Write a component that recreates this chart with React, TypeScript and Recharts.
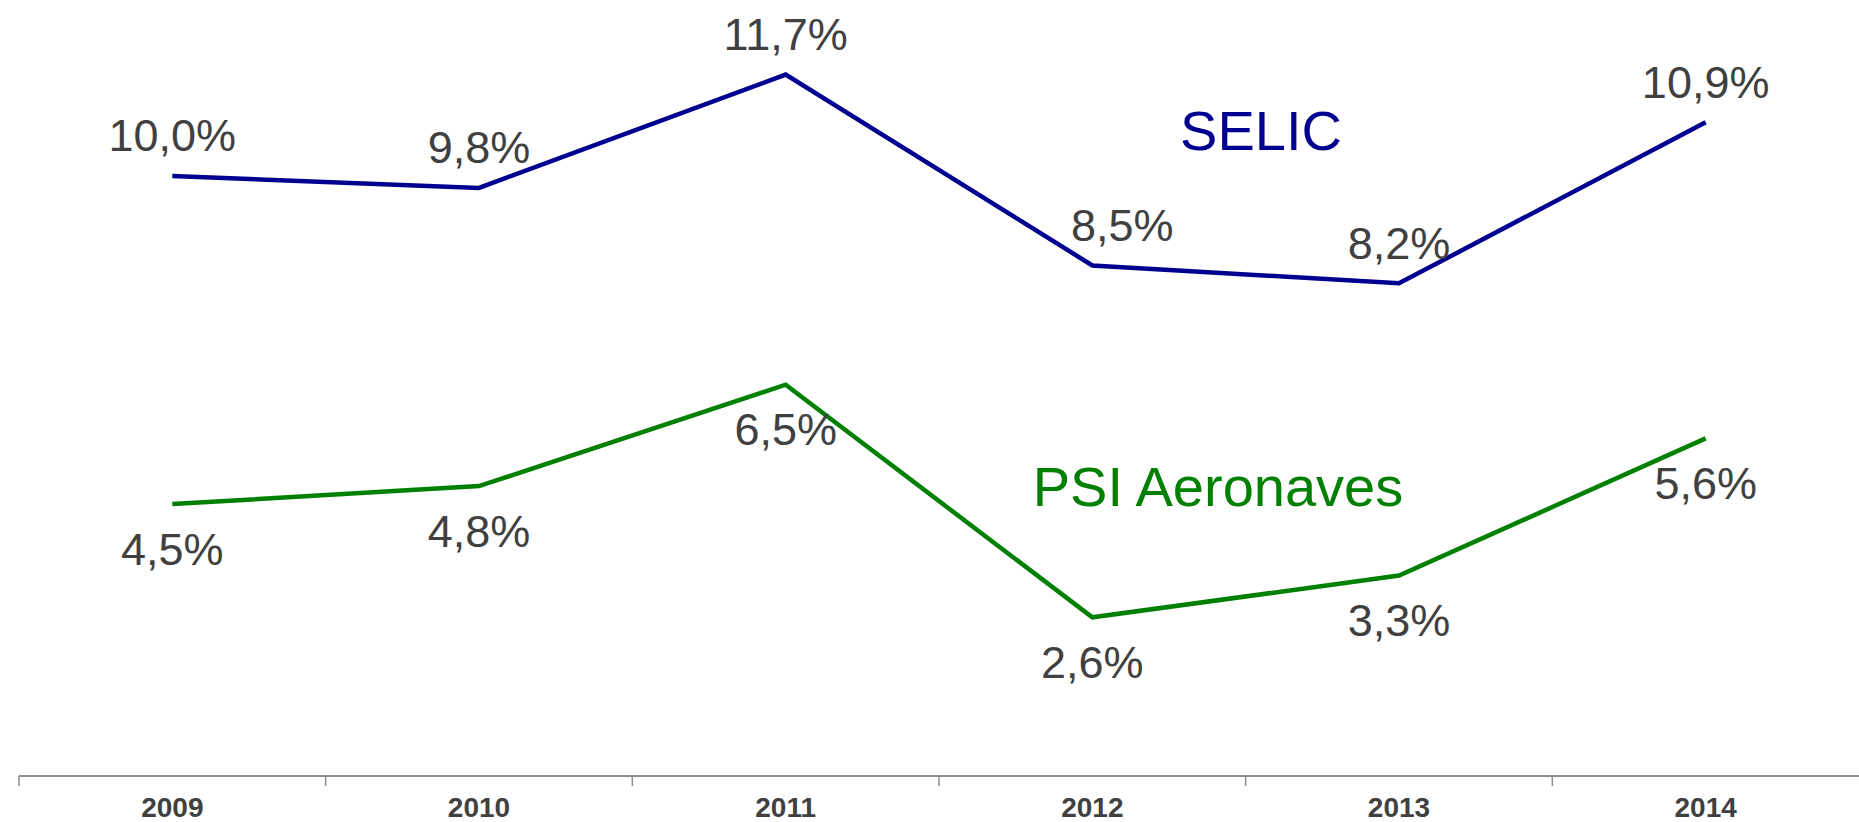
import React from 'react';
import { LineChart, Line, XAxis, YAxis, LabelList, Customized } from 'recharts';

const years = ['2009', '2010', '2011', '2012', '2013', '2014'];
const selic = [10.0, 9.8, 11.7, 8.5, 8.2, 10.9];
const psiAeronaves = [4.5, 4.8, 6.5, 2.6, 3.3, 5.6];

const chartData = years.map((year, i) => ({
  year,
  selic: selic[i],
  psi: psiAeronaves[i],
}));

const WIDTH = 1859;
const HEIGHT = 822;
const MARGIN_LEFT = 19;
const BAND = (WIDTH - MARGIN_LEFT) / years.length;

const FONT = '"Liberation Sans", Arial, sans-serif';
const LABEL_COLOR = '#404040';
const SELIC_COLOR = '#000090';
const PSI_COLOR = '#008000';

const fmt = (v: number) => v.toFixed(1).replace('.', ',') + '%';

// tick line on the left edge of each band, label in the middle
const YearTick = ({ x, y, payload }: any) => (
  <g>
    <line x1={x - BAND / 2} y1={y} x2={x - BAND / 2} y2={y + 10} stroke="#8c8c8c" strokeWidth={1.5} />
    <text x={x} y={y + 41} textAnchor="middle" fontFamily={FONT} fontSize={28} fontWeight="bold" fill={LABEL_COLOR}>
      {payload.value}
    </text>
  </g>
);

const selicLabel = (props: any) => {
  const { x, y, value, index } = props;
  const dx = index === 3 ? 30 : 0;
  return (
    <text x={x + dx} y={y - 40} textAnchor="middle" dominantBaseline="central" fontFamily={FONT} fontSize={45} fill={LABEL_COLOR}>
      {fmt(value)}
    </text>
  );
};

const psiLabel = (props: any) => {
  const { x, y, value } = props;
  return (
    <text x={x} y={y + 45} textAnchor="middle" dominantBaseline="central" fontFamily={FONT} fontSize={45} fill={LABEL_COLOR}>
      {fmt(value)}
    </text>
  );
};

const SeriesNames = () => (
  <g fontFamily={FONT}>
    <text x={1261} y={150} textAnchor="middle" fontSize={56} fill={SELIC_COLOR}>SELIC</text>
    <text x={1218} y={506} textAnchor="middle" fontSize={56} fill={PSI_COLOR}>PSI Aeronaves</text>
  </g>
);

export default function App() {
  return (
    <div style={{ position: 'absolute', left: 0, top: 0, width: WIDTH, height: HEIGHT, background: '#fff' }}>
      <LineChart width={WIDTH} height={HEIGHT} data={chartData} margin={{ top: 0, right: 0, bottom: 0, left: MARGIN_LEFT }}>
        <XAxis
          dataKey="year"
          scale="band"
          height={46}
          axisLine={{ stroke: '#8c8c8c', strokeWidth: 2 }}
          tickLine={false}
          tickSize={0}
          tickMargin={0}
          tick={<YearTick />}
          interval={0}
        />
        <YAxis hide domain={[-0.06, 12.95]} />
        <Line dataKey="selic" stroke={SELIC_COLOR} strokeWidth={4.5} dot={false} isAnimationActive={false}>
          <LabelList dataKey="selic" content={selicLabel} />
        </Line>
        <Line dataKey="psi" stroke={PSI_COLOR} strokeWidth={4.5} dot={false} isAnimationActive={false}>
          <LabelList dataKey="psi" content={psiLabel} />
        </Line>
        <Customized component={SeriesNames} />
      </LineChart>
    </div>
  );
}
